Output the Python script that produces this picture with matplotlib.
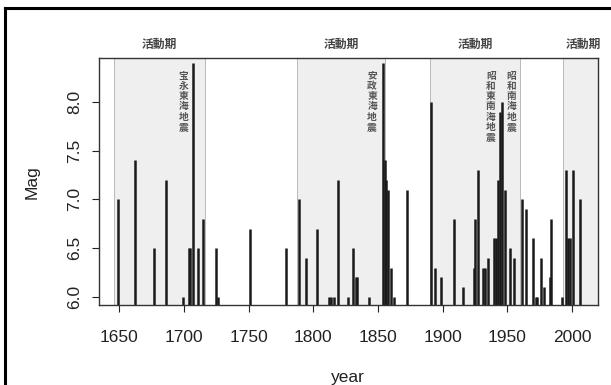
import numpy as np
import matplotlib
matplotlib.use("Agg")
import matplotlib.pyplot as plt
from matplotlib.lines import Line2D

# earthquakes
years = [1649, 1662, 1677, 1686, 1699, 1704, 1705, 1707, 1711, 1715, 1725, 1726,
         1751, 1779, 1789, 1794, 1803, 1812, 1814, 1816, 1819, 1827, 1831, 1833,
         1834, 1843, 1854, 1855, 1856, 1858, 1860, 1862, 1872, 1891, 1894, 1899,
         1909, 1916, 1924, 1925, 1927, 1931, 1933, 1935, 1940, 1941, 1943, 1944,
         1946, 1948, 1952, 1955, 1961, 1964, 1970, 1972, 1973, 1976, 1978, 1983,
         1984, 1992, 1995, 1997, 1998, 2001, 2006]
mags = [7.0, 7.4, 6.5, 7.2, 6.0, 6.5, 6.5, 8.4, 6.5, 6.8, 6.5, 6.0,
        6.7, 6.5, 7.0, 6.4, 6.7, 6.0, 6.0, 6.0, 7.2, 6.0, 6.5, 6.2,
        6.2, 6.0, 8.4, 7.4, 7.2, 7.1, 6.3, 6.0, 7.1, 8.0, 6.3, 6.2,
        6.8, 6.1, 6.3, 6.8, 7.3, 6.3, 6.3, 6.4, 6.6, 6.6, 7.2, 7.9,
        8.0, 7.1, 6.5, 6.4, 7.0, 6.9, 6.6, 6.0, 6.0, 6.4, 6.1, 6.2,
        6.8, 6.0, 7.3, 6.6, 6.6, 7.3, 7.0]

# active periods
period_start = [1646, 1787.5, 1890, 1992.6]
period_end = [1716, 1855.5, 1959.7, 2025]
period_label = "活動期"

# named events (year position, label)
event_x = [1699.4, 1845.4, 1937.2, 1953.0]
event_names = ["宝永東海地震", "安政東海地震", "昭和東南海地震", "昭和南海地震"]

plt.rcParams['font.family'] = ['Liberation Sans', 'DejaVu Sans']
jp = ['Noto Sans CJK JP', 'DejaVu Sans']

fig = plt.figure(figsize=(6.11, 3.85), dpi=100)
ax = fig.add_axes([0.1614, 0.2078, 0.9787 - 0.1614, 0.8486 - 0.2078])

for s, e in zip(period_start, period_end):
    ax.axvspan(s, e, facecolor='#efefef', edgecolor='#b0b0b0', lw=0.6, zorder=0)
    ax.text((s + min(e, 2025)) / 2, 1.058, period_label, transform=ax.get_xaxis_transform(),
            ha='center', va='center', fontsize=8.5, family=jp, weight='bold',
            color='#444444', clip_on=False)

ax.vlines(years, 0, mags, colors='#1a1a1a', lw=1.8, zorder=2)

for x, name in zip(event_x, event_names):
    ax.text(x, 8.32, "\n".join(name), ha='center', va='top', fontsize=7,
            family=jp, weight='bold', color='#555555', linespacing=1.02, zorder=3)

ax.set_xlim(1634, 2020)
ax.set_ylim(5.915, 8.45)
ax.set_xticks(np.arange(1650, 2001, 50))
ax.set_yticks(np.arange(6.0, 8.01, 0.5))
ax.set_yticklabels([f"{v:.1f}" for v in np.arange(6.0, 8.01, 0.5)], rotation=90, va='center')
ax.tick_params(axis='x', length=5, width=0.8, pad=13, labelsize=12.5, colors='#222222')
ax.tick_params(axis='y', length=5, width=0.8, pad=7, labelsize=12.5, colors='#222222')
for sp in ax.spines.values():
    sp.set_linewidth(1.0)
    sp.set_color('#333333')

ax.set_xlabel("year", fontsize=12.5, labelpad=18, color='#222222')
ax.set_ylabel("Mag", fontsize=12.5, labelpad=20, color='#222222')

# outer frame of the scanned figure
fig.add_artist(Line2D([5 / 611, 5 / 611], [0, 1 - 8 / 385], color='black', lw=2.2,
                      transform=fig.transFigure))
fig.add_artist(Line2D([5 / 611, 1], [1 - 8 / 385, 1 - 8 / 385], color='black', lw=2.2,
                      transform=fig.transFigure))

fig.savefig("out.png", dpi=100)
